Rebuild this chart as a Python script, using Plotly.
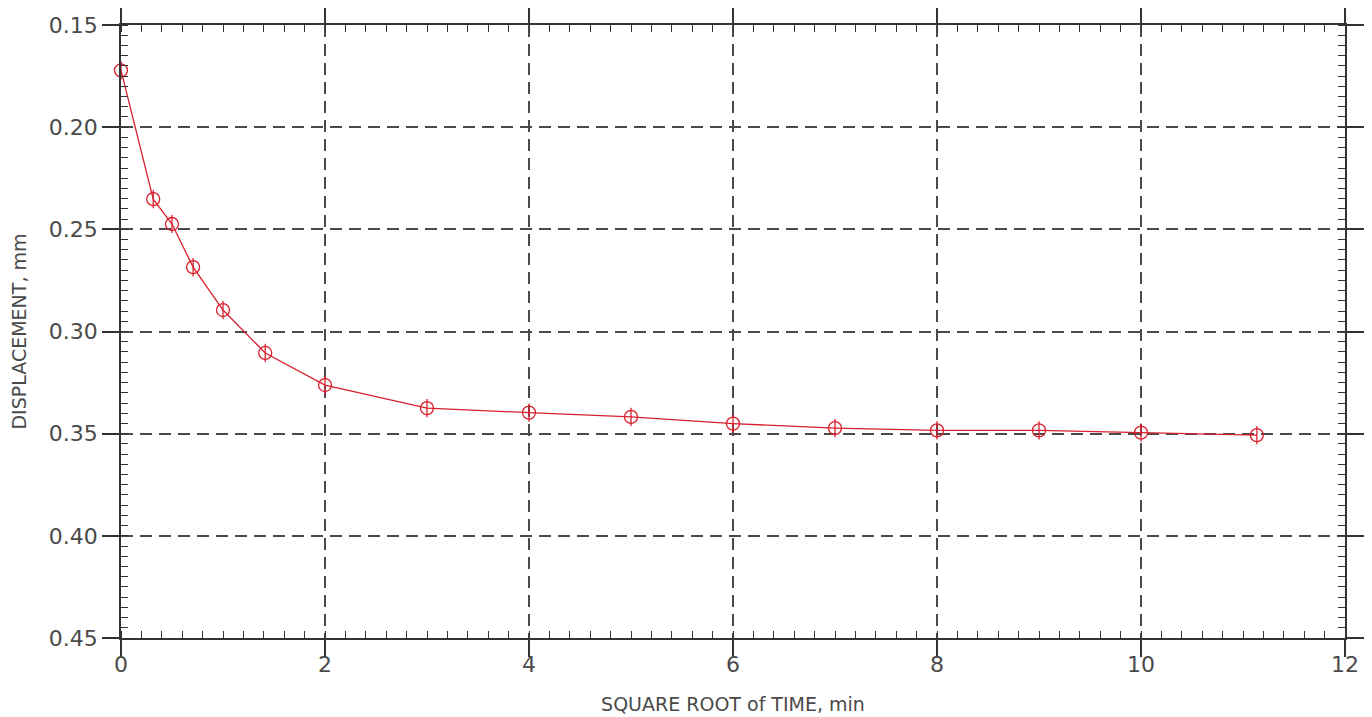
import plotly.graph_objects as go

sqrt_time = [0.0, 0.316, 0.5, 0.707, 1.0, 1.414, 2.0, 3.0, 4.0, 5.0, 6.0, 7.0, 8.0, 9.0, 10.0, 11.136]
displacement = [0.1722, 0.2352, 0.2474, 0.2685, 0.2895, 0.3105, 0.3262, 0.3375, 0.3397, 0.3418,
                0.3451, 0.3473, 0.3484, 0.3484, 0.3495, 0.3507]

x_title = "SQUARE ROOT of TIME, min"
y_title = "DISPLACEMENT, mm"
y_ticks = [0.15, 0.20, 0.25, 0.30, 0.35, 0.40, 0.45]
y_ticklabels = ["0.15", "0.20", "0.25", "0.30", "0.35", "0.40", "0.45"]

RED = "#d8202e"
AX = "#333333"
FAM = "DejaVu Sans"
TICKFONT = dict(family=FAM, size=22, color="#4a4a4a")
TITLEFONT = dict(family=FAM, size=19, color="#4a4a4a")

fig = go.Figure()
fig.add_trace(go.Scatter(
    x=sqrt_time, y=displacement, mode="lines+markers",
    line=dict(color=RED, width=1.3),
    marker=dict(symbol="circle-open", size=13, color=RED, line=dict(width=1.3, color=RED)),
    showlegend=False, cliponaxis=False,
))
fig.add_trace(go.Scatter(
    x=sqrt_time, y=displacement, mode="markers",
    marker=dict(symbol="line-ns-open", size=13, color=RED, line=dict(width=1.3, color=RED)),
    showlegend=False, cliponaxis=False,
))

axis_common = dict(
    showline=True, linecolor=AX, linewidth=1.5, mirror="allticks",
    ticks="outside", ticklen=17, tickwidth=1.5, tickcolor=AX,
    showgrid=True, gridcolor="#4a4a4a", gridwidth=1.6, griddash="12px,7px",
    zeroline=False, tickfont=TICKFONT, automargin=False,
)

fig.update_xaxes(
    range=[0, 12], tickmode="linear", tick0=0, dtick=2,
    minor=dict(ticks="inside", dtick=0.2, ticklen=7, tickwidth=1.3, tickcolor=AX, showgrid=False),
    title=dict(text=x_title, font=TITLEFONT, standoff=22),
    ticklabelstandoff=-11,
    **axis_common,
)
fig.update_yaxes(
    range=[0.45, 0.15], tickmode="array", tickvals=y_ticks, ticktext=y_ticklabels,
    minor=dict(ticks="inside", dtick=0.005, tick0=0.15, ticklen=7, tickwidth=1.3, tickcolor=AX, showgrid=False),
    title=dict(text=y_title, font=TITLEFONT, standoff=22),
    **axis_common,
)

# the page body adds an 8px offset, so the figure is sized to fit the window
fig.update_layout(
    width=1364, height=709,
    margin=dict(l=113, r=27, t=17, b=79),
    plot_bgcolor="white", paper_bgcolor="white",
)

fig.write_html("out.html")
